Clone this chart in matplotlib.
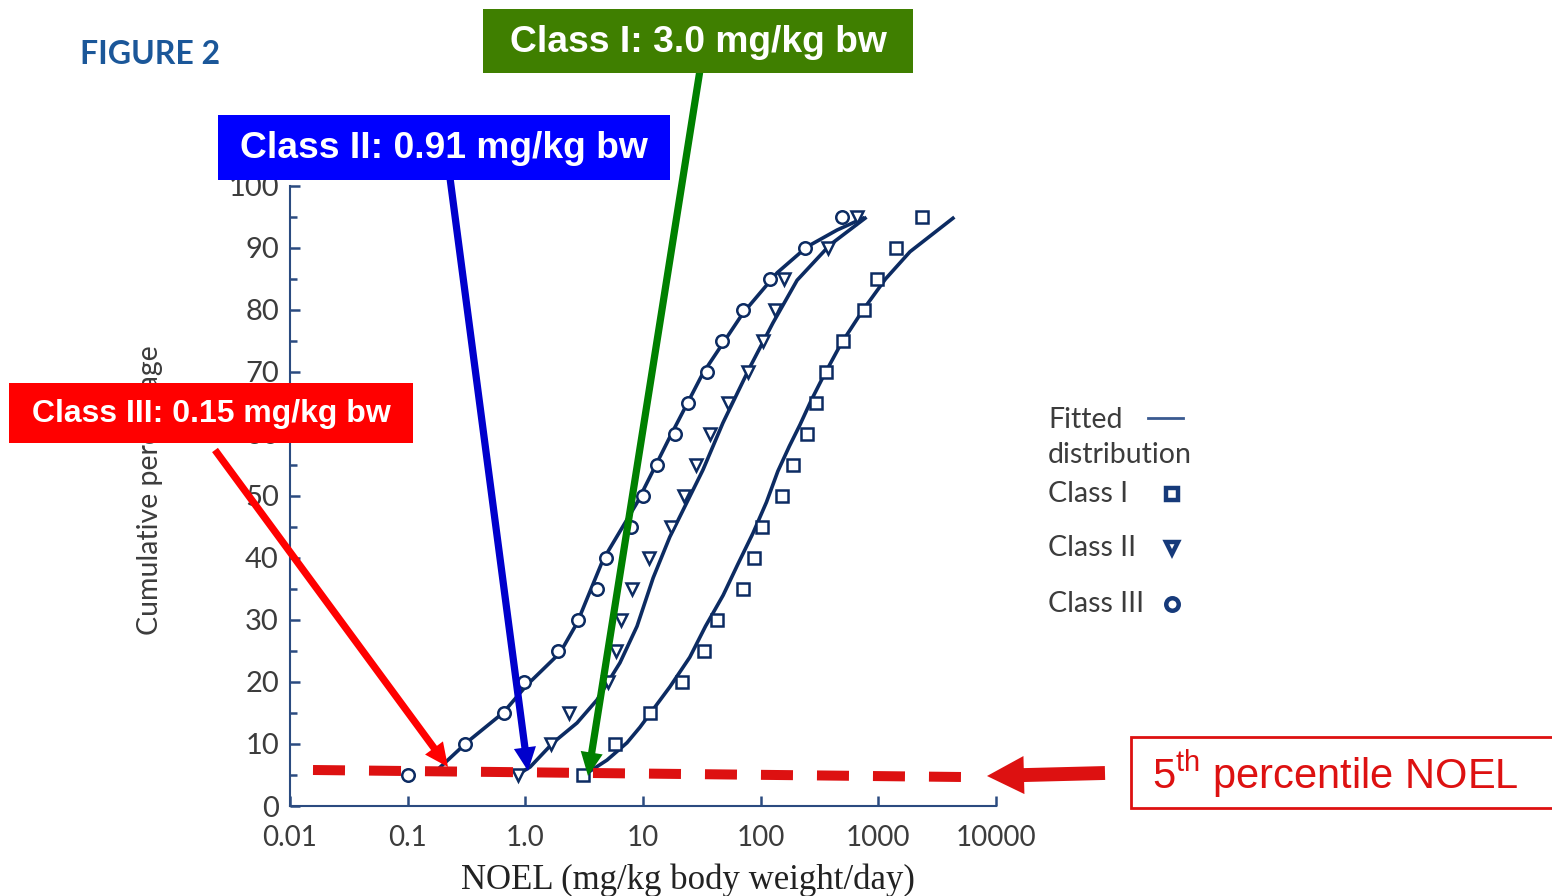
import matplotlib.pyplot as plt
import matplotlib.ticker as mticker
from matplotlib.lines import Line2D
from matplotlib.patches import Rectangle, FancyArrowPatch

plt.rcParams["mathtext.fontset"] = "custom"
plt.rcParams["mathtext.rm"] = "Liberation Sans"

W, H = 1552, 896

# cumulative percentage of each plotted point (same for all classes)
pct = [5, 10, 15, 20, 25, 30, 35, 40, 45, 50, 55, 60, 65, 70, 75, 80, 85, 90, 95]

# NOEL values (mg/kg bw/day)
class1_noel = [3.1, 5.8, 11.5, 21.4, 33, 42.5, 70.8, 87.7, 103, 152, 188, 248,
               295, 359, 501, 755, 973, 1413, 2350]
class2_noel = [0.87, 1.65, 2.35, 5.0, 5.9, 6.5, 8.0, 11.2, 17.3, 22.3, 28.2, 37,
               52.7, 78, 105, 132, 158, 373, 658]
class3_noel = [0.1, 0.31, 0.66, 0.98, 1.9, 2.8, 4.07, 4.85, 7.9, 10, 13.2, 18.7,
               24.1, 35, 47, 71, 120, 238, 491]

# fitted distributions, points
fit1_x = [3.34, 4.94, 7.31, 9.42, 16.9, 25, 34, 48, 64, 86, 112, 140, 175, 216,
          270, 339, 480, 741, 1150, 1858, 4305]
fit1_y = [5.3, 7.4, 10.2, 12.7, 19.2, 24, 29, 34, 39, 44, 49, 54, 58, 61.5,
          65.5, 69.2, 74.5, 80.0, 85.0, 89.4, 94.8]
fit2_x = [0.85, 1.10, 1.72, 2.75, 4.06, 6.37, 8.9, 12.2, 16.9, 32.3, 47.8, 81.1,
          127, 204, 388, 771]
fit2_y = [5.0, 6.3, 10.2, 13.4, 17.1, 23.1, 29.0, 36.8, 43.4, 54.2, 61.8, 70.8,
          77.9, 84.8, 90.5, 94.8]
fit3_x = [0.19, 0.32, 0.645, 1.03, 1.97, 2.75, 4.57, 8.89, 16.9, 32.3, 70.8, 138,
          248, 446, 741]
fit3_y = [6.3, 10.3, 15.0, 19.5, 24.7, 29.5, 39.7, 48.9, 59.5, 69.8, 79.5, 86.0,
          90.2, 92.9, 94.8]

xticks = [0.01, 0.1, 1, 10, 100, 1000, 10000]
xtick_labels = ["0.01", "0.1", "1.0", "10", "100", "1000", "10000"]
yticks = [0, 10, 20, 30, 40, 50, 60, 70, 80, 90, 100]
yticks_minor = [5, 15, 25, 35, 45, 55, 65, 75, 85, 95]

legend_labels = ["Class I", "Class II", "Class III"]
legend_markers = ["s", "v", "o"]


def fx(px):
    return px / W


def fy(py):
    return 1 - py / H


navy = "#0c2b62"
axis_col = "#2b4b80"
grey = "#3c3c3c"

fig = plt.figure(figsize=(W / 100, H / 100), dpi=100)
ax = fig.add_axes([fx(290), fy(806), 706 / W, 620 / H])

ax.plot(fit1_x, fit1_y, color=navy, lw=2.6)
ax.plot(fit2_x, fit2_y, color=navy, lw=2.6)
ax.plot(fit3_x, fit3_y, color=navy, lw=2.6)
mk = dict(ls="none", mfc="white", mec=navy, mew=1.8, ms=9)
ax.plot(class1_noel, pct, marker="s", **mk)
ax.plot(class2_noel, pct, marker="v", **mk)
ax.plot(class3_noel, pct, marker="o", **mk)

ax.set_xscale("log")
ax.set_xlim(0.01, 10000)
ax.set_ylim(0, 100)
ax.set_xticks(xticks, xtick_labels)
ax.xaxis.set_minor_locator(mticker.NullLocator())
ax.set_yticks(yticks)
ax.set_yticks(yticks_minor, minor=True)
for s in ["top", "right"]:
    ax.spines[s].set_visible(False)
for s in ["left", "bottom"]:
    ax.spines[s].set_color(axis_col)
    ax.spines[s].set_linewidth(1.5)
ax.tick_params(which="both", direction="in", color=axis_col, width=1.8,
               labelcolor=grey)
ax.tick_params(which="major", length=7)
ax.tick_params(which="minor", length=5)
ax.tick_params(axis="x", pad=14, labelsize=20)
ax.tick_params(axis="y", pad=8, labelsize=21)
for lab in ax.get_xticklabels() + ax.get_yticklabels():
    lab.set_family("Lato")

ax.set_xlabel("NOEL (mg/kg body weight/day)", family="Liberation Serif",
              fontsize=25, color="#222222")
ax.xaxis.set_label_coords((688 - 290) / 706, (806 - 880) / 620)
ax.xaxis.label.set_va("center")
ax.set_ylabel("Cumulative percentage", family="Lato", fontsize=20.5, color=grey)
ax.yaxis.set_label_coords((150 - 290) / 706, (806 - 490) / 620)
ax.yaxis.label.set_va("center")

fig.text(fx(80), fy(54), "FIGURE 2", family="Lato", weight="bold",
         fontsize=23, color="#1b5799", va="center", ha="left")

# legend, drawn by hand to match the original layout
lfs = 20.5
fig.text(fx(1048), fy(420), "Fitted", family="Lato", fontsize=lfs, color=grey, va="center")
fig.text(fx(1048), fy(455), "distribution", family="Lato", fontsize=lfs, color=grey, va="center")
fig.add_artist(Line2D([fx(1148), fx(1183)], [fy(418), fy(418)],
                      transform=fig.transFigure, color="#3a5a90", lw=2))
for i, (lab, m) in enumerate(zip(legend_labels, legend_markers)):
    yy = [494, 548, 604][i]
    fig.text(fx(1048), fy(yy), lab, family="Lato", fontsize=lfs, color=grey, va="center")
    fig.add_artist(Line2D([fx(1172)], [fy(yy)], transform=fig.transFigure,
                          marker=m, ms=9, mfc="white", mec="#163a7a", mew=3.2, ls="none"))

# 5th percentile dashed line and arrows
fig.add_artist(Line2D([fx(313), fx(962)], [fy(770), fy(777)], transform=fig.transFigure,
                      color="#dd1111", lw=7.2, dashes=(3.2, 2.4), solid_capstyle="butt",
                      dash_capstyle="butt", zorder=4))

arrows = [((700, 70), (588, 776), "#008000"),
          ((450, 178), (528, 771), "#0000cc"),
          ((215, 450), (448, 767), "#ff0000")]
for (x0, y0), (x1, y1), c in arrows:
    fig.add_artist(FancyArrowPatch((fx(x0), fy(y0)), (fx(x1), fy(y1)),
                                   transform=fig.transFigure,
                                   arrowstyle="simple,head_length=0.85,head_width=0.8,tail_width=0.26",
                                   mutation_scale=20, lw=0, color=c,
                                   shrinkA=0, shrinkB=0, zorder=5))
fig.add_artist(FancyArrowPatch((fx(1105), fy(773)), (fx(987), fy(776)),
                               transform=fig.transFigure,
                               arrowstyle="simple,head_length=1.33,head_width=1.37,tail_width=0.5",
                               mutation_scale=20, lw=0, color="#dd1111",
                               shrinkA=0, shrinkB=0, zorder=5))

# labelled boxes
boxes = [((483, 9, 913, 73), "#3f7f00", "Class I: 3.0 mg/kg bw", 26.8),
         ((218, 115, 670, 180), "#0000ff", "Class II: 0.91 mg/kg bw", 26.8),
         ((9, 383, 413, 443), "#ff0000", "Class III: 0.15 mg/kg bw", 23)]
for (x0, y0, x1, y1), c, txt, fs in boxes:
    fig.add_artist(Rectangle((fx(x0), fy(y1)), (x1 - x0) / W, (y1 - y0) / H,
                             transform=fig.transFigure, facecolor=c,
                             edgecolor="none", zorder=6))
    fig.text(fx((x0 + x1) / 2), fy((y0 + y1) / 2 + 1), txt, family="Liberation Sans",
             weight="bold", fontsize=fs, color="white", ha="center", va="center",
             zorder=7)

fig.add_artist(Rectangle((fx(1131), fy(808)), (1560 - 1131) / W, (808 - 737) / H,
                         transform=fig.transFigure, facecolor="white",
                         edgecolor="#dd1111", lw=2, zorder=6))
fig.text(fx(1152), fy(774), r"5$^{\mathrm{th}}$ percentile NOEL", family="Liberation Sans",
         fontsize=30, color="#dd1111", ha="left", va="center", zorder=7)

fig.savefig("out.png", dpi=100)
